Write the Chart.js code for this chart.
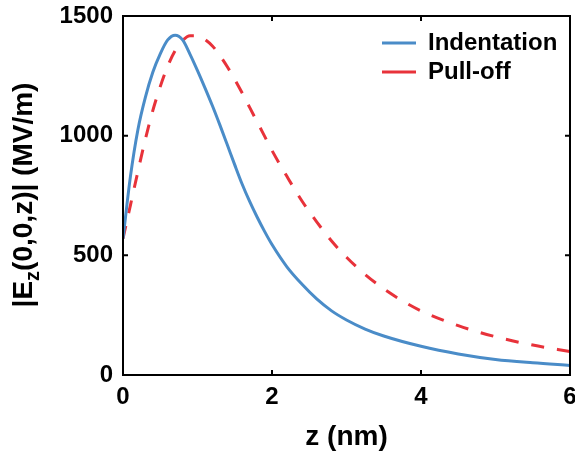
<!DOCTYPE html>
<html>
<head>
<meta charset="utf-8">
<script src="https://cdn.jsdelivr.net/npm/chart.js@4/dist/chart.umd.min.js"></script>
<style>
    html, body { margin: 0; padding: 0; background: #fff; }
    #wrap { width: 575px; height: 451px; }
</style>
</head>
<body>
<div id="wrap"><canvas id="chart"></canvas></div>
<script>
// values
const zIndent = [0, 0.1, 0.2, 0.3, 0.4, 0.5, 0.6, 0.7, 0.8, 0.9, 1.0, 1.1, 1.2, 1.3, 1.4, 1.5, 1.6, 1.7, 1.8, 1.9, 2.0, 2.2, 2.4, 2.6, 2.8, 3.0, 3.25, 3.5, 4.0, 4.5, 5.0, 5.5, 6.0];
const eIndent = [570, 830, 1025, 1160, 1265, 1342, 1400, 1420, 1400, 1340, 1272, 1200, 1125, 1045, 962, 878, 797, 725, 660, 600, 545, 452, 380, 318, 268, 230, 192, 163, 120, 88, 65, 51, 40];

const zPull = [0, 0.1, 0.2, 0.3, 0.4, 0.5, 0.6, 0.7, 0.8, 0.9, 1.0, 1.1, 1.2, 1.3, 1.4, 1.5, 1.6, 1.7, 1.8, 1.9, 2.0, 2.2, 2.4, 2.6, 2.8, 3.0, 3.25, 3.5, 3.75, 4.0, 4.5, 5.0, 5.5, 6.0];
const ePull = [570, 710, 850, 985, 1105, 1205, 1290, 1355, 1398, 1418, 1418, 1402, 1375, 1335, 1288, 1235, 1178, 1118, 1058, 998, 938, 830, 728, 640, 560, 492, 420, 360, 310, 268, 206, 160, 125, 98];

const seriesNames = ['Indentation', 'Pull-off'];
const xTitle = 'z (nm)';
const yTitleParts = ['|E', 'z', '(0,0,z)| (MV/m)'];

const FONT = "'Liberation Sans', Arial, Helvetica, sans-serif";
const blue = '#4a8cc8';
const red = '#e8323a';

function toPoints(xs, ys) {
    return xs.map((x, i) => ({ x: x, y: ys[i] }));
}

// frame around the plot with ticks pointing inwards, plus the y title with its subscript
const framePlugin = {
    id: 'frame',
    beforeDraw(chart) {
        // legend sits inside the plot, top right
        const lg = chart.legend;
        const w = lg.width, h = lg.height;
        lg.left = 377;
        lg.right = lg.left + w;
        lg.top = 26;
        lg.bottom = lg.top + h;
    },
    afterDraw(chart) {
        const ctx = chart.ctx;
        const a = chart.chartArea;
        const xs = chart.scales.x, ys = chart.scales.y;
        ctx.save();
        ctx.strokeStyle = '#000';
        ctx.lineWidth = 2;
        ctx.strokeRect(a.left, a.top, a.right - a.left, a.bottom - a.top);
        ctx.beginPath();
        for (const t of xs.ticks) {
            const px = xs.getPixelForValue(t.value);
            ctx.moveTo(px, a.bottom); ctx.lineTo(px, a.bottom - 5);
            ctx.moveTo(px, a.top); ctx.lineTo(px, a.top + 5);
        }
        for (const t of ys.ticks) {
            const py = ys.getPixelForValue(t.value);
            ctx.moveTo(a.left, py); ctx.lineTo(a.left + 5, py);
            ctx.moveTo(a.right, py); ctx.lineTo(a.right - 5, py);
        }
        ctx.stroke();

        // y title
        const big = 'bold 28px ' + FONT;
        const small = 'bold 20px ' + FONT;
        ctx.fillStyle = '#000';
        ctx.textBaseline = 'middle';
        ctx.textAlign = 'left';
        ctx.font = big;
        const w0 = ctx.measureText(yTitleParts[0]).width;
        const w2 = ctx.measureText(yTitleParts[2]).width;
        ctx.font = small;
        const w1 = ctx.measureText(yTitleParts[1]).width;
        const total = w0 + w1 + w2;
        ctx.translate(24, 195);
        ctx.rotate(-Math.PI / 2);
        let cx = -total / 2;
        ctx.font = big;
        ctx.fillText(yTitleParts[0], cx, 0);
        cx += w0;
        ctx.font = small;
        ctx.fillText(yTitleParts[1], cx, 9);
        cx += w1;
        ctx.font = big;
        ctx.fillText(yTitleParts[2], cx, 0);
        ctx.restore();
    }
};

new Chart(document.getElementById('chart'), {
    type: 'line',
    data: {
        datasets: [{
            label: seriesNames[0],
            data: toPoints(zIndent, eIndent),
            borderColor: blue,
            backgroundColor: blue,
            borderWidth: 3,
            pointRadius: 0,
            cubicInterpolationMode: 'monotone'
        }, {
            label: seriesNames[1],
            data: toPoints(zPull, ePull),
            borderColor: red,
            backgroundColor: red,
            borderWidth: 3,
            borderDash: [13, 13],
            pointRadius: 0,
            cubicInterpolationMode: 'monotone'
        }]
    },
    options: {
        responsive: true,
        maintainAspectRatio: false,
        animation: false,
        layout: { padding: { top: 16, right: 5, left: 0, bottom: 0 } },
        scales: {
            x: {
                type: 'linear',
                min: 0,
                max: 6,
                grid: { display: false, drawTicks: false },
                border: { display: false },
                ticks: {
                    stepSize: 2, padding: 8, color: '#000',
                    font: { family: FONT, size: 24, weight: 'bold' },
                    callback: v => String(v)
                },
                title: {
                    display: true,
                    text: xTitle,
                    color: '#000',
                    font: { family: FONT, size: 28, weight: 'bold', lineHeight: 1 },
                    padding: { top: 0, bottom: 0 }
                },
                afterFit: scale => {
                    scale.height = 76;
                    scale.paddingLeft = 0;
                    scale.paddingRight = 0;
                }
            },
            y: {
                min: 0,
                max: 1500,
                grid: { display: false, drawTicks: false },
                border: { display: false },
                ticks: {
                    stepSize: 500, padding: 10, color: '#000',
                    font: { family: FONT, size: 24, weight: 'bold' },
                    callback: v => String(v)
                },
                afterFit: scale => {
                    scale.width = 123;
                    scale.paddingTop = 0;
                    scale.paddingBottom = 0;
                }
            }
        },
        plugins: {
            legend: {
                position: 'chartArea',
                align: 'start',
                labels: {
                    usePointStyle: true,
                    pointStyle: 'line',
                    pointStyleWidth: 34,
                    padding: 5,
                    color: '#000',
                    font: { family: FONT, size: 24, weight: 'bold' }
                }
            },
            tooltip: { enabled: false }
        }
    },
    plugins: [framePlugin]
});
</script>
</body>
</html>
